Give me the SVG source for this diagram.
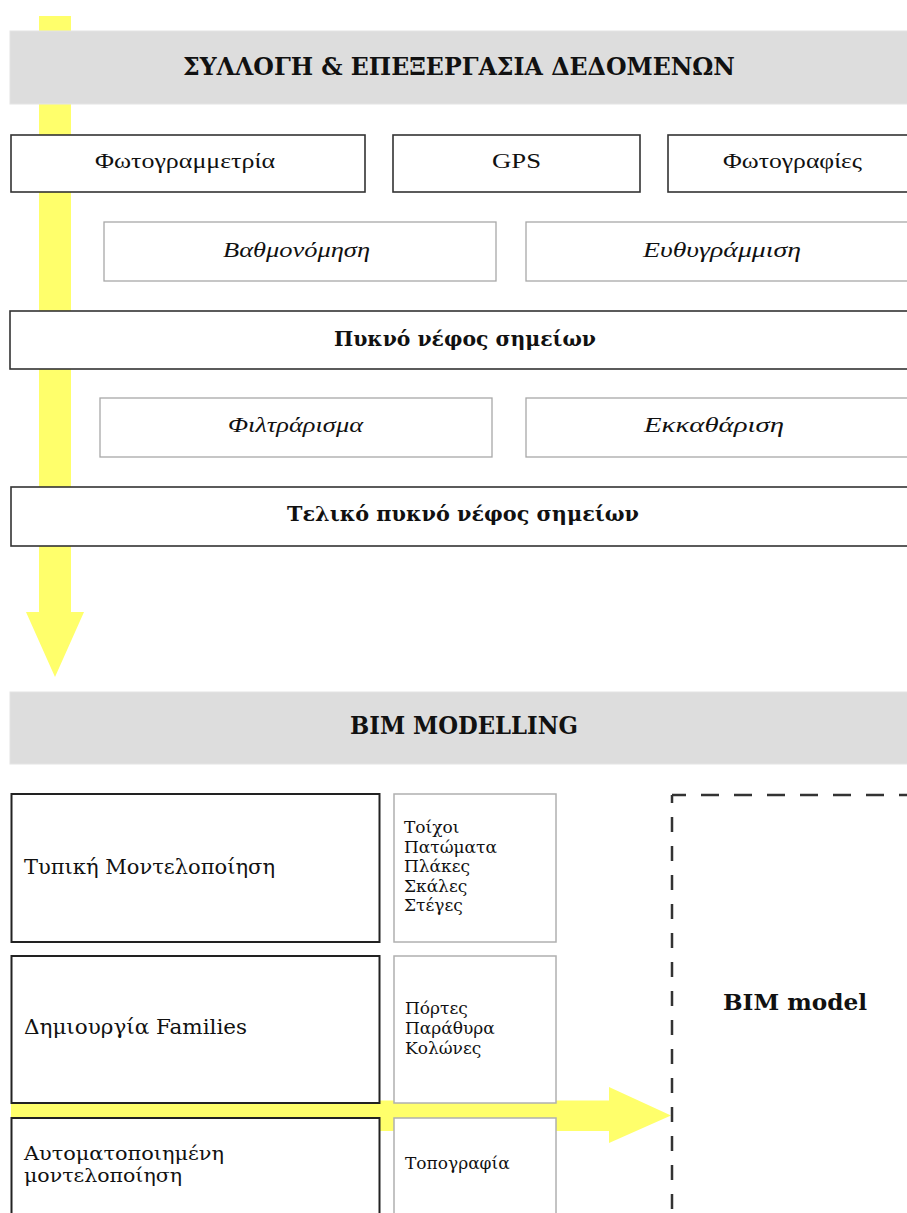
<svg xmlns="http://www.w3.org/2000/svg" width="907" height="1213" viewBox="0 0 907 1213">
  <style>
    .banner { fill: #dddddd; stroke: #e4e4e4; stroke-width: 1; }
    .box-dark { fill: #ffffff; stroke: #333333; stroke-width: 1.6; }
    .box-light { fill: #ffffff; stroke: #a8a8a8; stroke-width: 1.3; }
    .box-heavy { fill: #ffffff; stroke: #222222; stroke-width: 2; }
    .box-list { fill: #ffffff; stroke: #b0b0b0; stroke-width: 1.5; }
    .flow { fill: #ffff6b; stroke: none; }
    .dash { fill: none; stroke: #333333; stroke-width: 2.5; }
    .title { font-family: "DejaVu Serif", serif; font-weight: bold; fill: #111111; }
    .reg { font-family: "Liberation Serif", "DejaVu Serif", serif; font-size: 22px; fill: #111111; }
    .ital { font-family: "Liberation Serif", "DejaVu Serif", serif; font-style: italic; font-size: 22px; fill: #111111; }
    .bold { font-family: "DejaVu Serif", serif; font-weight: bold; font-size: 20px; fill: #111111; }
    .label { font-family: "DejaVu Serif", serif; font-size: 21px; fill: #111111; }
    .label-sm { font-family: "DejaVu Serif", serif; font-size: 19px; fill: #111111; }
    .item { font-family: "DejaVu Serif", serif; font-size: 17px; fill: #111111; }
  </style>

  <!-- flow arrows (drawn beneath the boxes) -->
  <g id="connectors">
    <polygon class="flow" points="39,16 71,16 71,612 84,612 55,677 26,612 39,612"/>
    <polygon class="flow" points="11,1100.5 609,1100.5 609,1087 671,1115.5 609,1143 609,1131 11,1131"/>
  </g>

  <!-- data collection & processing -->
  <g id="banner-data">
    <rect class="banner" x="10" y="31" width="905" height="73"/>
    <text class="title" x="183" y="75" font-size="25" textLength="552" lengthAdjust="spacingAndGlyphs">ΣΥΛΛΟΓΗ &amp; ΕΠΕΞΕΡΓΑΣΙΑ ΔΕΔΟΜΕΝΩΝ</text>
  </g>

  <g id="node-photogrammetry">
    <rect class="box-dark" x="11" y="135" width="354" height="57"/>
    <text class="reg" x="95" y="168" textLength="180" lengthAdjust="spacingAndGlyphs">Φωτογραμμετρία</text>
  </g>
  <g id="node-gps">
    <rect class="box-dark" x="393" y="135" width="247" height="57"/>
    <text class="reg" x="492" y="168" textLength="49" lengthAdjust="spacingAndGlyphs">GPS</text>
  </g>
  <g id="node-photos">
    <rect class="box-dark" x="668" y="135" width="250" height="57"/>
    <text class="reg" x="723" y="168" textLength="139" lengthAdjust="spacingAndGlyphs">Φωτογραφίες</text>
  </g>

  <g id="node-calibration">
    <rect class="box-light" x="104" y="222" width="392" height="59"/>
    <text class="ital" x="223" y="257" textLength="147" lengthAdjust="spacingAndGlyphs">Βαθμονόμηση</text>
  </g>
  <g id="node-alignment">
    <rect class="box-light" x="526" y="222" width="392" height="59"/>
    <text class="ital" x="643" y="257" textLength="158" lengthAdjust="spacingAndGlyphs">Ευθυγράμμιση</text>
  </g>

  <g id="node-dense-cloud">
    <rect class="box-dark" x="10" y="311" width="908" height="58"/>
    <text class="bold" x="334" y="346" textLength="262" lengthAdjust="spacingAndGlyphs">Πυκνό νέφος σημείων</text>
  </g>

  <g id="node-filtering">
    <rect class="box-light" x="100" y="398" width="392" height="59"/>
    <text class="ital" x="228" y="432" textLength="135" lengthAdjust="spacingAndGlyphs">Φιλτράρισμα</text>
  </g>
  <g id="node-cleaning">
    <rect class="box-light" x="526" y="398" width="392" height="59"/>
    <text class="ital" x="644" y="432" textLength="140" lengthAdjust="spacingAndGlyphs">Εκκαθάριση</text>
  </g>

  <g id="node-final-cloud">
    <rect class="box-dark" x="11" y="487" width="907" height="59"/>
    <text class="bold" x="287" y="521" textLength="352" lengthAdjust="spacingAndGlyphs">Τελικό πυκνό νέφος σημείων</text>
  </g>

  <!-- BIM modelling -->
  <g id="banner-bim">
    <rect class="banner" x="10" y="692" width="905" height="72"/>
    <text class="title" x="350" y="734" font-size="25" textLength="228" lengthAdjust="spacingAndGlyphs">BIM MODELLING</text>
  </g>

  <g id="node-standard-modelling">
    <rect class="box-heavy" x="11.5" y="794" width="368" height="148"/>
    <text class="label" x="24" y="874" textLength="251" lengthAdjust="spacingAndGlyphs">Τυπική Μοντελοποίηση</text>
  </g>
  <g id="node-standard-elements">
    <rect class="box-list" x="394" y="794" width="162" height="148"/>
    <text class="item" x="404" y="833">Τοίχοι</text>
    <text class="item" x="404" y="852.5">Πατώματα</text>
    <text class="item" x="404" y="872">Πλάκες</text>
    <text class="item" x="404" y="891.5">Σκάλες</text>
    <text class="item" x="404" y="911">Στέγες</text>
  </g>

  <g id="node-families">
    <rect class="box-heavy" x="11.5" y="956" width="368" height="147"/>
    <text class="label" x="24" y="1034" textLength="223" lengthAdjust="spacingAndGlyphs">Δημιουργία Families</text>
  </g>
  <g id="node-family-elements">
    <rect class="box-list" x="394" y="956" width="162" height="147"/>
    <text class="item" x="405" y="1013.5">Πόρτες</text>
    <text class="item" x="405" y="1033.5">Παράθυρα</text>
    <text class="item" x="405" y="1053.5">Κολώνες</text>
  </g>

  <g id="node-automated">
    <rect class="box-heavy" x="11.5" y="1118" width="368" height="120"/>
    <text class="label-sm" x="24" y="1160" textLength="200" lengthAdjust="spacingAndGlyphs">Αυτοματοποιημένη</text>
    <text class="label-sm" x="24" y="1182" textLength="158" lengthAdjust="spacingAndGlyphs">μοντελοποίηση</text>
  </g>
  <g id="node-topography">
    <rect class="box-list" x="394" y="1118" width="162" height="120"/>
    <text class="item" x="405" y="1169">Τοπογραφία</text>
  </g>

  <g id="node-bim-model">
    <line class="dash" x1="672" y1="795" x2="910" y2="795" stroke-dasharray="18 15" stroke-dashoffset="4"/>
    <line class="dash" x1="672" y1="795" x2="672" y2="1215" stroke-dasharray="15 14" stroke-dashoffset="7"/>
    <text class="title" x="723" y="1010" font-size="22" textLength="144" lengthAdjust="spacingAndGlyphs">BIM model</text>
  </g>
</svg>
